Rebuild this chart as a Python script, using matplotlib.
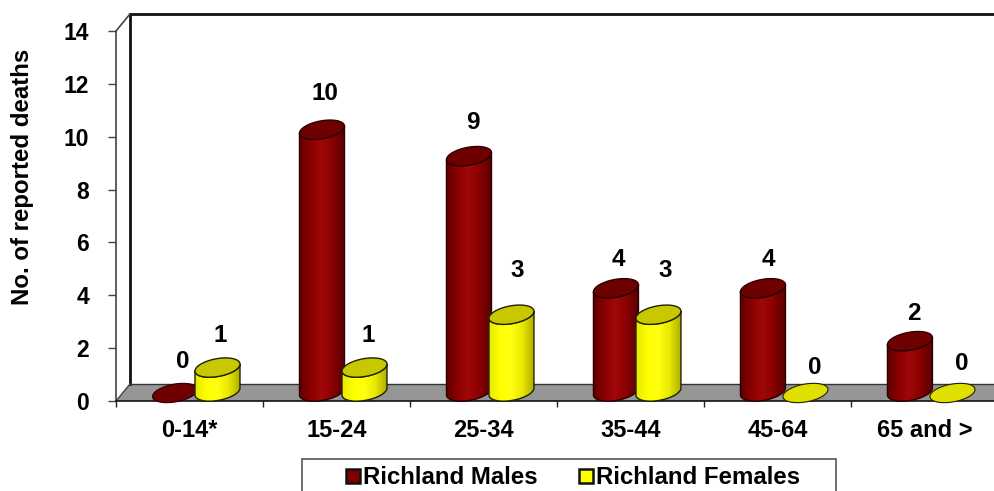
import numpy as np
import matplotlib
matplotlib.use("Agg")
import matplotlib.pyplot as plt
from matplotlib.colors import LinearSegmentedColormap
from matplotlib.patches import Polygon, Rectangle
from matplotlib.lines import Line2D

categories = ["0-14*", "15-24", "25-34", "35-44", "45-64", "65 and >"]
males = [0, 10, 9, 4, 4, 2]
females = [1, 1, 3, 3, 0, 0]
y_ticks = [0, 2, 4, 6, 8, 10, 12, 14]

plt.rcParams["font.family"] = ["Liberation Sans", "DejaVu Sans"]
plt.rcParams["font.weight"] = "bold"

W, H = 995, 491
fig = plt.figure(figsize=(W / 100, H / 100), dpi=100)
ax = fig.add_axes([116 / W, 1 - 401 / H, 879 / W, 370 / H])
ax.set_xlim(-0.5, 5.48)
ax.set_ylim(0, 14)
ax.patch.set_alpha(0)
PX = 1 / 147
PY = 14 / 370


def dx(p):
    return p * PX


def dy(p):
    return p * PY


# 3-D frame: floor and back wall, drawn in axes units from the axis limits
floor = Polygon([(-0.5, 0), (-0.5 + dx(14), dy(17)), (5.48, dy(17)), (5.48, 0)],
                closed=True, fc="#969696", ec="none", zorder=1)
ax.add_patch(floor)
frame = dict(color="#111111", lw=2.0, zorder=1.5, clip_on=False)
ax.plot([-0.5 + dx(14)] * 2, [dy(17), 14 + dy(17)], **frame)
ax.plot([-0.5 + dx(14), 5.48], [14 + dy(17)] * 2, **frame)
ax.plot([-0.5 + dx(14), 5.48], [dy(17)] * 2, color="#333333", lw=1, zorder=1.5)
ax.plot([-0.5, -0.5 + dx(14)], [14, 14 + dy(17)], color="#444444", lw=1.2, clip_on=False)
ax.plot([-0.5, -0.5 + dx(14)], [0, dy(17)], color="#444444", lw=1, zorder=1.5)

A, B, K = 22.5, 9.0, 3.5   # cylinder ellipse half-width, half-height, tilt (pixels)
TOP_LIFT, BASE_LIFT = 7.0, 9.5
t = np.linspace(0, 2 * np.pi, 121)


def ring(xc, yc, ts):
    return np.column_stack([xc + dx(A * np.cos(ts)),
                            yc + dy(B * np.sin(ts) + K * np.cos(ts))])


def cylinder(xc, value, side, cap, edge, flat, z):
    y_base = dy(BASE_LIFT)
    y_top = value + dy(TOP_LIFT)
    if value == 0:
        ax.add_patch(Polygon(ring(xc, dy(8), t), closed=True, fc=flat, ec=edge, lw=0.8, zorder=z, clip_on=False))
        return
    lower_b = ring(xc, y_base, np.linspace(np.pi, 2 * np.pi, 60))
    lower_t = ring(xc, y_top, np.linspace(2 * np.pi, np.pi, 60))
    body = Polygon(np.vstack([lower_b, lower_t]), closed=True, fc="none", ec=edge, lw=1.0, zorder=z + 0.2, clip_on=False)
    shade = LinearSegmentedColormap.from_list("s", side)
    grad = np.linspace(0, 1, 64)[None, :]
    im = ax.imshow(grad, cmap=shade, aspect="auto", zorder=z,
                   extent=[xc - dx(A), xc + dx(A), -dy(B + K), y_top + dy(B + K)])
    clip = Polygon(np.vstack([lower_b, lower_t]), closed=True, transform=ax.transData, fc="none", ec="none")
    ax.add_patch(clip)
    im.set_clip_path(clip)
    ax.add_patch(body)
    ax.add_patch(Polygon(ring(xc, y_top, t), closed=True, fc=cap, ec=edge, lw=1.0, zorder=z + 0.3))


RED = ["#5e0000", "#8a0000", "#a00808", "#8a0000", "#5c0000"]
YEL = ["#e8e800", "#ffff00", "#ffff10", "#e8e800", "#b0b000"]
male_off, female_off = dx(-14.5), dx(28)
male_shift = [(8, 40), (3, 43), (4, 41), (2, 36), (5, 36), (4, 35)]
female_shift = [(3, 39), (4, 39), (6, 51), (7, 51), (9, 33), (9, 37)]

for i in range(len(categories)):
    cylinder(i + male_off, males[i], RED, "#6e0000", "#2a0000", "#6e0000", 3)
    cylinder(i + female_off, females[i], YEL, "#c8c800", "#222200", "#e0e000", 4)
    ax.annotate(str(males[i]), (i + male_off, males[i]), xytext=(male_shift[i][0] * 0.72, male_shift[i][1] * 0.72),
                textcoords="offset points", ha="center", va="center", fontsize=17.5, zorder=6)
    ax.annotate(str(females[i]), (i + female_off, females[i]), xytext=(female_shift[i][0] * 0.72, female_shift[i][1] * 0.72),
                textcoords="offset points", ha="center", va="center", fontsize=17.5, zorder=6)

for s in ("top", "right"):
    ax.spines[s].set_visible(False)
ax.spines["left"].set_color("#444444")
ax.spines["left"].set_linewidth(1.2)
ax.spines["bottom"].set_color("#111111")
ax.spines["bottom"].set_linewidth(1.2)
ax.set_yticks(y_ticks)
ax.set_xticks(range(len(categories)))
ax.set_xticklabels(categories)
ax.set_xticks(np.arange(-0.5, 5.48, 1), minor=True)
ax.tick_params(axis="x", which="major", length=0, pad=13, labelsize=17)
ax.tick_params(axis="x", which="minor", length=4.5, width=1, color="#222222")
ax.tick_params(axis="y", length=5.5, width=1, color="#444444", labelsize=16.5, pad=14)
ax.set_ylabel("No. of reported deaths", fontsize=17.3, fontweight="bold")
ax.yaxis.set_label_coords(-(116 - 34) / 879, (401 - 177) / 370)

# Legend box runs off the bottom of the picture, as in the reference
fig.add_artist(Rectangle((302 / W, -0.02), 534 / W, 1 - 459 / H + 0.02, transform=fig.transFigure,
                         fc="white", ec="#555555", lw=1.2))
handles = [Line2D([], [], ls="none", marker="s", ms=9.5, mfc="#800000", mec="#111111", mew=1.8),
           Line2D([], [], ls="none", marker="s", ms=9.5, mfc="#ffff00", mec="#111111", mew=1.8)]
fig.legend(handles, ["Richland Males", "Richland Females"], ncols=2, frameon=False,
           loc="center", bbox_to_anchor=(570.5 / W, 1 - 478 / H), fontsize=17.3,
           handletextpad=-0.06, columnspacing=1.49, borderpad=0, handlelength=1.0)

fig.savefig("out.png", dpi=100)
